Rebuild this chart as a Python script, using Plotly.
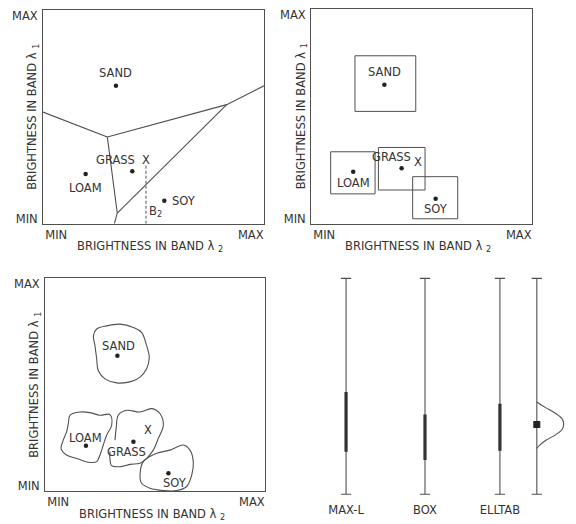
import plotly.graph_objects as go

# ---------------- data ----------------
AXIS_END_LABELS = ["MIN", "MAX"]
X_END_TICKS = [6.0, 94.0]
Y_END_TICKS = [2.3, 97.2]
X_TITLE = "BRIGHTNESS IN BAND λ <sub>2</sub>"
Y_TITLE = "BRIGHTNESS IN BAND λ <sub>1</sub>"

CLASSES = ["SAND", "GRASS", "LOAM", "SOY"]

# Panel 1 – decision boundaries (maximum likelihood)
P1_MEAN_X = [33.0, 40.4, 19.3, 54.9]
P1_MEAN_Y = [64.5, 24.5, 23.3, 10.7]
P1_LABEL_X = [33.0, 32.6, 19.3, 63.8]
P1_LABEL_Y = [70.6, 29.8, 16.9, 10.5]
P1_PIXEL = (46.6, 29.8)
P1_B2_TOP = 27.4
P1_BOUNDARIES = [
    ([0.0, 29.1], [52.2, 40.6]),
    ([29.1, 83.1, 100.0], [40.6, 55.7, 64.5]),
    ([29.1, 33.6, 32.3], [40.6, 5.0, 0.0]),
    ([33.6, 83.1], [5.0, 55.7]),
]

# Panel 2 – parallelepiped boxes
P2_MEAN_X = [33.2, 41.0, 19.1, 56.4]
P2_MEAN_Y = [64.7, 25.8, 24.2, 11.6]
P2_BOX_X0 = [19.9, 30.5, 8.9, 46.0]
P2_BOX_X1 = [47.4, 51.6, 29.0, 66.4]
P2_BOX_Y0 = [52.3, 15.7, 13.9, 2.3]
P2_BOX_Y1 = [78.2, 35.5, 33.5, 21.9]
P2_LABEL_X = [33.2, 36.5, 19.1, 56.4]
P2_LABEL_Y = [70.5, 30.9, 19.1, 6.8]
P2_PIXEL = (48.3, 28.6)

# Panel 3 – irregular class regions (table look-up)
P3_MEAN_X = [32.9, 40.2, 18.6, 56.1]
P3_MEAN_Y = [63.7, 23.2, 21.3, 8.4]
P3_LABEL_X = [33.3, 37.1, 18.6, 59.1]
P3_LABEL_Y = [68.1, 18.2, 24.8, 3.7]
P3_PIXEL = (47.0, 28.7)
SAND_REGION_X = [23.5, 28.0, 34.1, 40.2, 43.9, 46.2, 47.4, 46.2, 43.2, 39.4, 32.6, 27.3, 24.2, 23.5, 22.7, 22.0, 23.5]
SAND_REGION_Y = [76.2, 77.7, 78.5, 76.9, 74.6, 68.4, 62.9, 57.5, 53.6, 51.6, 50.9, 52.8, 56.7, 62.1, 68.4, 73.1, 76.2]
LOAM_REGION_X = [11.4, 15.9, 20.5, 25.0, 29.5, 30.3, 28.0, 26.5, 25.0, 23.5, 19.7, 14.4, 9.8, 7.3, 8.3, 9.8, 10.6, 11.4]
LOAM_REGION_Y = [35.7, 37.2, 36.9, 35.7, 36.0, 31.0, 26.3, 21.7, 17.0, 13.9, 13.6, 15.4, 17.0, 20.1, 24.0, 27.9, 31.8, 35.7]
GRASS_REGION_X = [31.8, 32.4, 33.3, 37.1, 43.2, 48.5, 52.3, 53.8, 51.5, 49.2, 46.2, 43.2, 38.6, 34.1, 30.3, 29.5, 29.5]
GRASS_REGION_Y = [24.0, 30.0, 35.7, 38.0, 37.2, 38.8, 36.4, 31.0, 24.8, 19.3, 15.4, 13.1, 12.6, 11.5, 12.0, 15.4, 18.5]
SOY_REGION_X = [44.7, 50.8, 56.8, 62.9, 65.9, 67.4, 66.7, 64.4, 59.8, 53.8, 47.7, 43.9, 43.2, 44.7]
SOY_REGION_Y = [13.9, 17.8, 19.3, 21.7, 19.3, 13.9, 7.6, 2.2, 0.3, 0.3, 1.4, 3.7, 7.6, 13.9]

# Panel 4 – one-band view of the classifiers
METHODS = ["MAX-L", "BOX", "ELLTAB"]
METHOD_X = [19.6, 47.2, 73.4]
RANGE_LO = [19.7, 15.8, 20.1]
RANGE_HI = [47.3, 36.9, 41.9]
DENSITY_AXIS_X = 86.3
DENSITY_Y = [42.7, 41.8, 40.0, 37.5, 35.0, 32.5, 30.0, 27.5, 25.0, 22.7, 21.2]
DENSITY_OFFSET = [0.0, 1.0, 3.2, 6.5, 8.8, 9.4, 8.8, 6.5, 3.2, 1.0, 0.0]
PIXEL_VALUE = 32.3

# ---------------- style ----------------
W, H = 576, 524
FONT = "DejaVu Sans"
FS = 11.5
TXT = "#333333"
LINE = "#505050"
CAP_HALF = 1.8

def dx(a, b):
    return [a / W, b / W]

def dy(top, bottom):
    return [1 - bottom / H, 1 - top / H]

fig = go.Figure()
annotations = []
tickfont = dict(family=FONT, size=FS, color=TXT)

def labels(xs, ys, texts, ax, xanchor="center"):
    for x, y, t in zip(xs, ys, texts):
        annotations.append(dict(x=x, y=y, text=t, xref=ax[0], yref=ax[1], showarrow=False,
                                xanchor=xanchor, yanchor="middle", font=tickfont))

def dots(xs, ys, ax):
    fig.add_trace(go.Scatter(x=xs, y=ys, mode="markers",
                             marker=dict(size=4.5, color="#222222"),
                             xaxis=ax[0], yaxis=ax[1], hoverinfo="skip", showlegend=False))

def line(xs, ys, ax, width=1.1, dash="solid", color=LINE, shape="linear"):
    fig.add_trace(go.Scatter(x=xs, y=ys, mode="lines",
                             line=dict(color=color, width=width, dash=dash, shape=shape),
                             xaxis=ax[0], yaxis=ax[1], hoverinfo="skip", showlegend=False))

A1, A2, A3, A4 = ("x", "y"), ("x2", "y2"), ("x3", "y3"), ("x4", "y4")

# Panel 1
for bx, by in P1_BOUNDARIES:
    line(bx, by, A1)
line([P1_PIXEL[0], P1_PIXEL[0]], [0, P1_B2_TOP], A1, width=1, dash="3px,2px")
dots(P1_MEAN_X, P1_MEAN_Y, A1)
labels(P1_LABEL_X, P1_LABEL_Y, CLASSES, A1)
labels([P1_PIXEL[0]], [P1_PIXEL[1]], ["X"], A1)
labels([P1_PIXEL[0] + 0.5], [5.5], ["B<sub>2</sub>"], A1, xanchor="left")

# Panel 2
for i in range(len(CLASSES)):
    line([P2_BOX_X0[i], P2_BOX_X1[i], P2_BOX_X1[i], P2_BOX_X0[i], P2_BOX_X0[i]],
         [P2_BOX_Y0[i], P2_BOX_Y0[i], P2_BOX_Y1[i], P2_BOX_Y1[i], P2_BOX_Y0[i]], A2, width=1)
dots(P2_MEAN_X, P2_MEAN_Y, A2)
labels(P2_LABEL_X, P2_LABEL_Y, CLASSES, A2)
labels([P2_PIXEL[0]], [P2_PIXEL[1]], ["X"], A2)

# Panel 3
for rx, ry in [(SAND_REGION_X, SAND_REGION_Y), (LOAM_REGION_X, LOAM_REGION_Y),
               (GRASS_REGION_X, GRASS_REGION_Y), (SOY_REGION_X, SOY_REGION_Y)]:
    line(rx, ry, A3, width=1.1, shape="spline")
dots(P3_MEAN_X, P3_MEAN_Y, A3)
labels(P3_LABEL_X, P3_LABEL_Y, CLASSES, A3)
labels([P3_PIXEL[0]], [P3_PIXEL[1]], ["X"], A3)

# Panel 4
for xv in METHOD_X + [DENSITY_AXIS_X]:
    line([xv, xv], [0, 100], A4, width=1.1)
    for yv in (0, 100):
        line([xv - CAP_HALF, xv + CAP_HALF], [yv, yv], A4, width=1.1)
for xv, lo, hi in zip(METHOD_X, RANGE_LO, RANGE_HI):
    line([xv, xv], [lo, hi], A4, width=3.2, color="#333333")
line([DENSITY_AXIS_X + o for o in DENSITY_OFFSET], DENSITY_Y, A4, width=1.1, shape="spline")
fig.add_trace(go.Scatter(x=[DENSITY_AXIS_X], y=[PIXEL_VALUE], mode="markers",
                         marker=dict(symbol="square-x", size=6, color="#222222",
                                     line=dict(color="#222222", width=1)),
                         xaxis="x4", yaxis="y4", hoverinfo="skip", showlegend=False))

# ---------------- layout ----------------
frame = dict(range=[0, 100], showgrid=False, zeroline=False, showline=True, mirror=True,
             linecolor=LINE, linewidth=1.1, ticks="", tickfont=tickfont, fixedrange=True)

panels = {
    1: (dx(43, 264), dy(9, 224)),
    2: (dx(311, 532), dy(8, 224)),
    3: (dx(45, 265), dy(279, 493)),
}
layout = dict(width=W, height=H, margin=dict(l=0, r=0, t=0, b=0),
              paper_bgcolor="white", plot_bgcolor="white", showlegend=False)
for k, (xd, yd) in panels.items():
    sx = "" if k == 1 else str(k)
    layout["xaxis" + sx] = dict(frame, domain=xd, anchor="y" + sx,
                                tickvals=X_END_TICKS, ticktext=AXIS_END_LABELS, ticklabelstandoff=0)
    layout["yaxis" + sx] = dict(frame, domain=yd, anchor="x" + sx,
                                tickvals=Y_END_TICKS, ticktext=AXIS_END_LABELS, ticklabelstandoff=2)
    ph = (yd[1] - yd[0]) * H
    pw = (xd[1] - xd[0]) * W
    annotations.append(dict(text=X_TITLE, xref="x%s domain" % sx, yref="y%s domain" % sx,
                            x=0.145, y=-23 / ph, xanchor="left", yanchor="middle",
                            showarrow=False, font=tickfont))
    annotations.append(dict(text=Y_TITLE, xref="x%s domain" % sx, yref="y%s domain" % sx,
                            x=-10 / pw, y=0.5, xanchor="center", yanchor="middle", textangle=-90,
                            showarrow=False, font=tickfont))

layout["xaxis4"] = dict(domain=dx(290, 576), anchor="y4", range=[0, 100], showgrid=False,
                        zeroline=False, showline=False, ticks="", tickvals=METHOD_X,
                        ticktext=METHODS, tickfont=tickfont, fixedrange=True, ticklabelstandoff=0)
layout["yaxis4"] = dict(domain=dy(272, 503), anchor="x4", range=[-3.2, 103.2], showgrid=False,
                        zeroline=False, showline=False, showticklabels=False, ticks="", fixedrange=True)
layout["annotations"] = annotations
fig.update_layout(**layout)

fig.write_html("out.html", config={"displayModeBar": False},
               post_script="document.body.style.margin='0';document.documentElement.style.overflow='hidden';")
